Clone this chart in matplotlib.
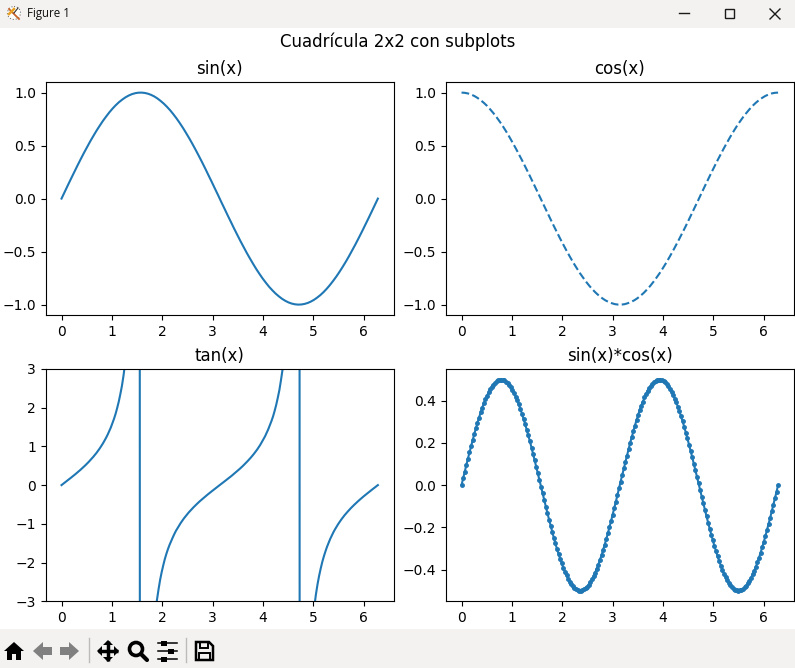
import matplotlib
matplotlib.use("Agg")
import matplotlib.pyplot as plt
from matplotlib.patches import Rectangle, Polygon, Circle

# ---------- values ----------
x_values = [0.000,0.063,0.127,0.190,0.254,0.317,0.381,0.444,0.508,0.571,
            0.635,0.698,0.762,0.825,0.889,0.952,1.015,1.079,1.142,1.206,
            1.269,1.333,1.396,1.460,1.523,1.587,1.650,1.714,1.777,1.841,
            1.904,1.967,2.031,2.094,2.158,2.221,2.285,2.348,2.412,2.475,
            2.539,2.602,2.666,2.729,2.793,2.856,2.919,2.983,3.046,3.110,
            3.173,3.237,3.300,3.364,3.427,3.491,3.554,3.618,3.681,3.745,
            3.808,3.871,3.935,3.998,4.062,4.125,4.189,4.252,4.316,4.379,
            4.443,4.506,4.570,4.633,4.697,4.760,4.823,4.887,4.950,5.014,
            5.077,5.141,5.204,5.268,5.331,5.395,5.458,5.522,5.585,5.649,
            5.712,5.775,5.839,5.902,5.966,6.029,6.093,6.156,6.220,6.283]

sin_values = [0.000,0.063,0.127,0.189,0.251,0.312,0.372,0.430,0.486,0.541,
              0.593,0.643,0.690,0.735,0.776,0.815,0.850,0.882,0.910,0.934,
              0.955,0.972,0.985,0.994,0.999,1.000,0.997,0.990,0.979,0.964,
              0.945,0.922,0.896,0.866,0.833,0.796,0.756,0.713,0.667,0.618,
              0.567,0.514,0.458,0.401,0.342,0.282,0.220,0.158,0.095,0.032,
              -0.032,-0.095,-0.158,-0.220,-0.282,-0.342,-0.401,-0.458,-0.514,-0.567,
              -0.618,-0.667,-0.713,-0.756,-0.796,-0.833,-0.866,-0.896,-0.922,-0.945,
              -0.964,-0.979,-0.990,-0.997,-1.000,-0.999,-0.994,-0.985,-0.972,-0.955,
              -0.934,-0.910,-0.882,-0.850,-0.815,-0.776,-0.735,-0.690,-0.643,-0.593,
              -0.541,-0.486,-0.430,-0.372,-0.312,-0.251,-0.189,-0.127,-0.063,0.000]

cos_values = [1.000,0.998,0.992,0.982,0.968,0.950,0.928,0.903,0.874,0.841,
              0.805,0.766,0.724,0.679,0.631,0.580,0.527,0.472,0.415,0.357,
              0.297,0.236,0.174,0.111,0.048,-0.016,-0.079,-0.142,-0.205,-0.267,
              -0.327,-0.386,-0.444,-0.500,-0.554,-0.606,-0.655,-0.702,-0.745,-0.786,
              -0.824,-0.858,-0.889,-0.916,-0.940,-0.960,-0.975,-0.987,-0.996,-1.000,
              -1.000,-0.996,-0.987,-0.975,-0.960,-0.940,-0.916,-0.889,-0.858,-0.824,
              -0.786,-0.745,-0.702,-0.655,-0.606,-0.554,-0.500,-0.444,-0.386,-0.327,
              -0.267,-0.205,-0.142,-0.079,-0.016,0.048,0.111,0.174,0.236,0.297,
              0.357,0.415,0.472,0.527,0.580,0.631,0.679,0.724,0.766,0.805,
              0.841,0.874,0.903,0.928,0.950,0.968,0.982,0.992,0.998,1.000]

x_dense = [0.000,0.032,0.063,0.095,0.126,0.158,0.189,0.221,0.253,0.284,
           0.316,0.347,0.379,0.410,0.442,0.474,0.505,0.537,0.568,0.600,
           0.631,0.663,0.695,0.726,0.758,0.789,0.821,0.852,0.884,0.916,
           0.947,0.979,1.010,1.042,1.074,1.105,1.137,1.168,1.200,1.231,
           1.263,1.295,1.326,1.358,1.389,1.421,1.452,1.484,1.516,1.547,
           1.579,1.610,1.642,1.673,1.705,1.737,1.768,1.800,1.831,1.863,
           1.894,1.926,1.958,1.989,2.021,2.052,2.084,2.115,2.147,2.179,
           2.210,2.242,2.273,2.305,2.337,2.368,2.400,2.431,2.463,2.494,
           2.526,2.558,2.589,2.621,2.652,2.684,2.715,2.747,2.779,2.810,
           2.842,2.873,2.905,2.936,2.968,3.000,3.031,3.063,3.094,3.126,
           3.157,3.189,3.221,3.252,3.284,3.315,3.347,3.379,3.410,3.442,
           3.473,3.505,3.536,3.568,3.600,3.631,3.663,3.694,3.726,3.757,
           3.789,3.821,3.852,3.884,3.915,3.947,3.978,4.010,4.042,4.073,
           4.105,4.136,4.168,4.200,4.231,4.263,4.294,4.326,4.357,4.389,
           4.421,4.452,4.484,4.515,4.547,4.578,4.610,4.642,4.673,4.705,
           4.736,4.768,4.799,4.831,4.863,4.894,4.926,4.957,4.989,5.020,
           5.052,5.084,5.115,5.147,5.178,5.210,5.242,5.273,5.305,5.336,
           5.368,5.399,5.431,5.463,5.494,5.526,5.557,5.589,5.620,5.652,
           5.684,5.715,5.747,5.778,5.810,5.842,5.873,5.905,5.936,5.968,
           5.999,6.031,6.062,6.094,6.126,6.157,6.189,6.220,6.252,6.283]

tan_values = [0.000,0.032,0.063,0.095,0.127,0.159,0.192,0.225,0.258,0.292,
              0.327,0.362,0.398,0.435,0.473,0.513,0.553,0.595,0.639,0.684,
              0.731,0.781,0.833,0.888,0.946,1.008,1.074,1.144,1.220,1.303,
              1.391,1.487,1.594,1.711,1.842,1.990,2.158,2.350,2.565,2.828,
              3.147,3.530,4.005,4.610,5.450,6.620,8.400,11.50,18.10,42.10,
              -127.0,-25.30,-14.10,-9.710,-7.410,-5.980,-5.000,-4.290,-3.750,-3.320,
              -2.980,-2.700,-2.450,-2.250,-2.070,-1.910,-1.770,-1.650,-1.540,-1.440,
              -1.350,-1.260,-1.180,-1.110,-1.040,-0.977,-0.916,-0.860,-0.807,-0.756,
              -0.707,-0.661,-0.617,-0.574,-0.533,-0.493,-0.454,-0.416,-0.380,-0.344,
              -0.309,-0.275,-0.241,-0.208,-0.175,-0.143,-0.111,-0.079,-0.047,-0.016,
              0.016,0.047,0.079,0.111,0.143,0.175,0.208,0.241,0.275,0.309,
              0.344,0.380,0.416,0.454,0.493,0.533,0.574,0.617,0.661,0.707,
              0.756,0.807,0.860,0.916,0.977,1.040,1.110,1.180,1.260,1.350,
              1.440,1.540,1.650,1.770,1.910,2.070,2.250,2.450,2.700,2.980,
              3.320,3.750,4.290,5.000,5.980,7.410,9.710,14.10,25.30,127.0,
              -42.10,-18.10,-11.50,-8.400,-6.620,-5.450,-4.610,-4.005,-3.530,-3.147,
              -2.828,-2.565,-2.350,-2.158,-1.990,-1.842,-1.711,-1.594,-1.487,-1.391,
              -1.303,-1.220,-1.144,-1.074,-1.008,-0.946,-0.888,-0.833,-0.781,-0.731,
              -0.684,-0.639,-0.595,-0.553,-0.513,-0.473,-0.435,-0.398,-0.362,-0.327,
              -0.292,-0.258,-0.225,-0.192,-0.159,-0.127,-0.095,-0.063,-0.032,0.000]

sincos_values = [0.000,0.032,0.063,0.094,0.125,0.155,0.185,0.214,0.242,0.269,
                 0.295,0.320,0.344,0.366,0.387,0.406,0.423,0.439,0.454,0.466,
                 0.476,0.485,0.492,0.497,0.499,0.500,0.499,0.496,0.490,0.483,
                 0.474,0.463,0.450,0.436,0.419,0.401,0.382,0.361,0.338,0.314,
                 0.289,0.262,0.235,0.207,0.178,0.148,0.117,0.086,0.055,0.024,
                 -0.008,-0.039,-0.071,-0.102,-0.133,-0.163,-0.192,-0.221,-0.249,-0.276,
                 -0.302,-0.326,-0.349,-0.371,-0.392,-0.410,-0.428,-0.443,-0.457,-0.469,
                 -0.479,-0.487,-0.493,-0.497,-0.500,-0.500,-0.498,-0.494,-0.489,-0.481,
                 -0.471,-0.460,-0.447,-0.432,-0.415,-0.396,-0.377,-0.355,-0.332,-0.308,
                 -0.282,-0.256,-0.228,-0.200,-0.170,-0.140,-0.110,-0.079,-0.047,-0.016,
                 0.016,0.047,0.079,0.110,0.140,0.170,0.200,0.228,0.256,0.282,
                 0.308,0.332,0.355,0.377,0.396,0.415,0.432,0.447,0.460,0.471,
                 0.481,0.489,0.494,0.498,0.500,0.500,0.497,0.493,0.487,0.479,
                 0.469,0.457,0.443,0.428,0.410,0.392,0.371,0.349,0.326,0.302,
                 0.276,0.249,0.221,0.192,0.163,0.133,0.102,0.071,0.039,0.008,
                 -0.024,-0.055,-0.086,-0.117,-0.148,-0.178,-0.207,-0.235,-0.262,-0.289,
                 -0.314,-0.338,-0.361,-0.382,-0.401,-0.419,-0.436,-0.450,-0.463,-0.474,
                 -0.483,-0.490,-0.496,-0.499,-0.500,-0.499,-0.497,-0.492,-0.485,-0.476,
                 -0.466,-0.454,-0.439,-0.423,-0.406,-0.387,-0.366,-0.344,-0.320,-0.295,
                 -0.269,-0.242,-0.214,-0.185,-0.155,-0.125,-0.094,-0.063,-0.032,0.000]

titles = ["sin(x)", "cos(x)", "tan(x)", "sin(x)*cos(x)"]
suptitle = "Cuadrícula 2x2 con subplots"
window_title = "Figure 1"

# ---------- layout ----------
W, H = 795, 668
fig = plt.figure(figsize=(W / 100, H / 100), dpi=100, facecolor="white")

def axes_px(left, top, right, bottom):
    return fig.add_axes([left / W, 1 - bottom / H, (right - left) / W, (bottom - top) / H])

ax1 = axes_px(45.7, 82, 393.7, 315.2)
ax2 = axes_px(445.7, 82, 793.9, 315.2)
ax3 = axes_px(45.7, 369, 393.7, 601.2)
ax4 = axes_px(445.7, 369, 793.9, 601.2)

ax1.plot(x_values, sin_values)
ax2.plot(x_values, cos_values, linestyle="--")
ax3.plot(x_dense, tan_values)
ax3.set_ylim(-3, 3)
ax4.plot(x_dense, sincos_values, marker=".", markersize=5)
for ax, t in zip((ax1, ax2, ax3, ax4), titles):
    ax.set_title(t)

fig.text(397.5 / W, 1 - 42 / H, suptitle, ha="center", va="center", fontsize=12)

# ---------- window chrome (pixel-space overlay) ----------
ov = fig.add_axes([0, 0, 1, 1], zorder=10)
ov.set_xlim(0, W)
ov.set_ylim(H, 0)
ov.axis("off")
ov.patch.set_alpha(0)
bar = "#f3f2f1"
dark = "#1a1a1a"
ov.add_patch(Rectangle((0, 0), W, 28, fc=bar, ec="none"))
ov.add_patch(Rectangle((0, 629), W, 39, fc=bar, ec="none"))
ov.text(27, 14, window_title, fontsize=8.3, family="Open Sans", va="center", ha="left", color="#111111")

# logo
ov.add_patch(Circle((14, 13), 6.5, fc="white", ec="#777777", lw=0.8, ls=":"))
ov.plot([9, 19], [9, 19], color="#c8642a", lw=1.3)
ov.plot([9, 14], [14, 9], color="#e8a020", lw=1.8)
ov.plot([14, 18], [13, 8], color="#333333", lw=0.8)

# window buttons
ov.plot([679, 689], [13, 13], color=dark, lw=1)
ov.add_patch(Rectangle((724.5, 8.5), 9, 9, fc="none", ec=dark, lw=1))
ov.plot([770, 780], [9, 19], color=dark, lw=1)
ov.plot([770, 780], [19, 9], color=dark, lw=1)

# toolbar: home
ov.add_patch(Polygon([(4, 651), (14, 642), (24, 651), (21, 651), (21, 660), (16, 660), (16, 654),
                      (12, 654), (12, 660), (7, 660), (7, 651)], fc="black", ec="none"))
# back / forward
ov.add_patch(Polygon([(33, 651), (43, 642), (43, 647), (52, 647), (52, 655), (43, 655), (43, 660)],
                     fc="#808080", ec="none"))
ov.add_patch(Polygon([(79, 651), (69, 642), (69, 647), (60, 647), (60, 655), (69, 655), (69, 660)],
                     fc="#808080", ec="none"))
# separators
ov.plot([88.5, 88.5], [638, 662], color="#bbbbbb", lw=1)
ov.plot([185.5, 185.5], [638, 662], color="#bbbbbb", lw=1)
# pan
ov.plot([98, 118], [651, 651], color="black", lw=2.5, solid_capstyle="butt")
ov.plot([108, 108], [641, 661], color="black", lw=2.5, solid_capstyle="butt")
for p in ([(97, 651), (102, 646), (102, 656)], [(119, 651), (114, 646), (114, 656)],
          [(108, 640), (103, 645), (113, 645)], [(108, 662), (103, 657), (113, 657)]):
    ov.add_patch(Polygon(p, fc="black", ec="none"))
# zoom
ov.add_patch(Circle((136, 649), 6.5, fc="none", ec="black", lw=2.6))
ov.plot([141, 147], [654, 660], color="black", lw=3, solid_capstyle="round")
# configure
for y, xk in ((643, 164), (651, 171), (659, 164)):
    ov.plot([158, 177], [y, y], color="black", lw=1.1)
    ov.add_patch(Rectangle((xk - 3, y - 2.5), 6, 5, fc="black", ec="none"))
# save
ov.add_patch(Polygon([(196, 642), (209, 642), (213, 646), (213, 660), (196, 660)],
                     fc="none", ec="black", lw=1.8))
ov.add_patch(Rectangle((200, 642), 8, 6, fc="none", ec="black", lw=1.4))
ov.add_patch(Rectangle((199, 653), 11, 7, fc="none", ec="black", lw=1.4))

fig.savefig("out.png", dpi=100)
